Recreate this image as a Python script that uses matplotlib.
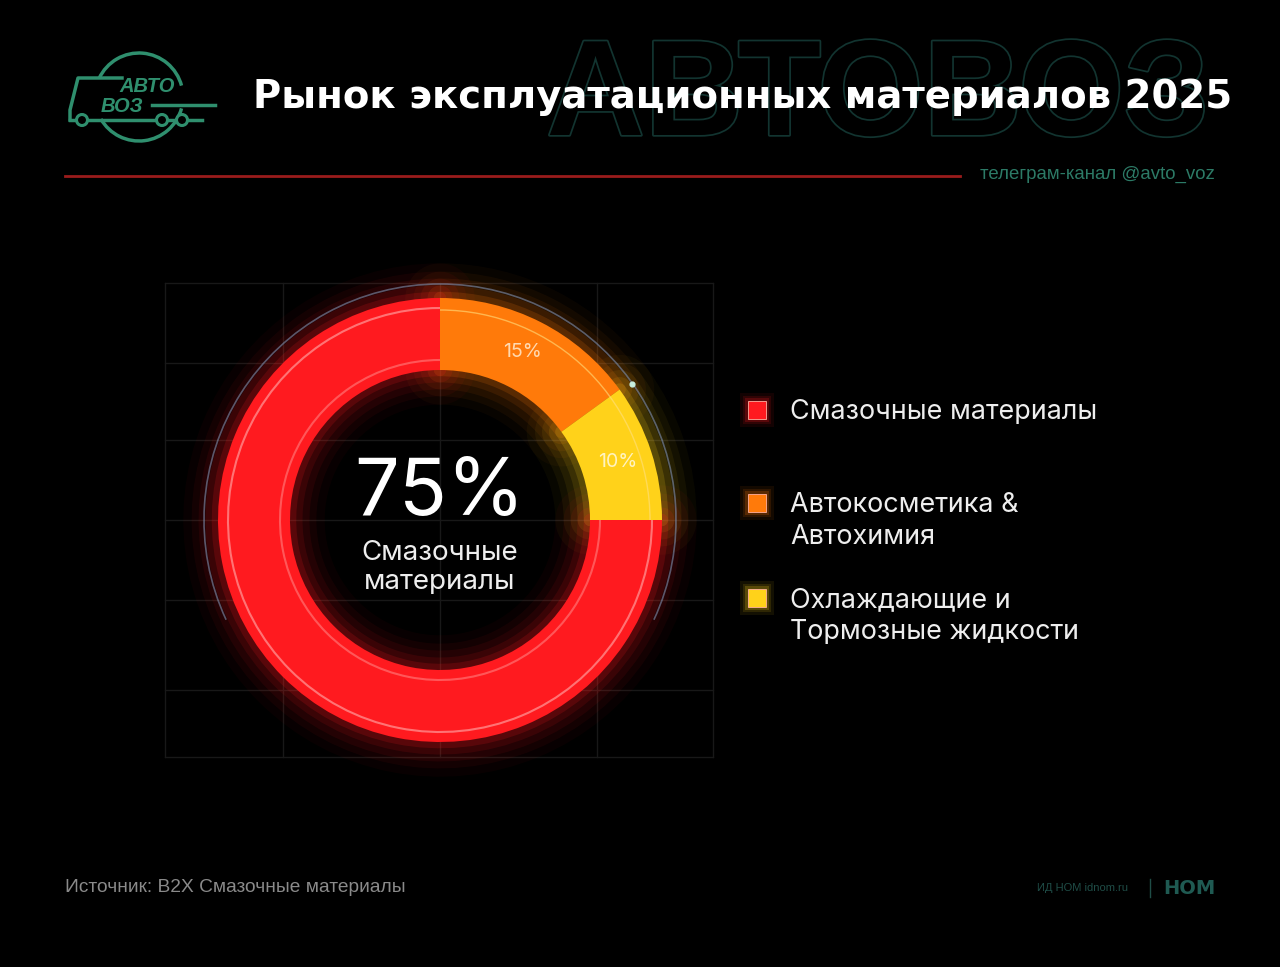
import matplotlib
matplotlib.use("Agg")
import matplotlib.pyplot as plt
import matplotlib.patheffects as pe
from matplotlib.patches import Arc, Circle, Rectangle
import numpy as np

# ---- data ----
categories = ["Смазочные материалы", "Автокосметика &\nАвтохимия", "Охлаждающие и\nТормозные жидкости"]
shares = [75, 15, 10]
colors = ["#ff1a1f", "#ff7a0a", "#ffd21a"]
title = "Рынок эксплуатационных материалов 2025"
center_value = "75%"
center_label = "Смазочные\nматериалы"
source = "Источник: B2X Смазочные материалы"
channel = "телеграм-канал @avto_voz"

W, H = 1280, 967
fig = plt.figure(figsize=(W / 100, H / 100), dpi=100, facecolor="black")

# background axes in pixel coordinates
bg = fig.add_axes([0, 0, 1, 1])
bg.set_xlim(0, W)
bg.set_ylim(H, 0)
bg.set_facecolor("black")
bg.axis("off")

# watermark
bg.text(878, 100, "АВТОВОЗ", fontsize=98, fontweight="bold", family="Liberation Sans",
        color="black", ha="center", va="center", zorder=1,
        path_effects=[pe.withStroke(linewidth=2.5, foreground="#123430")])

# logo
teal = "#2f8f6e"
bg.add_patch(Arc((139, 97), 88, 88, theta1=15, theta2=150, color=teal, lw=2.5))
bg.add_patch(Arc((139, 97), 88, 88, theta1=205, theta2=345, color=teal, lw=2.5))
bg.text(147, 87, "АВТО", fontsize=14.5, style="italic", fontweight="bold", color=teal,
        ha="center", va="center", family="Liberation Sans")
bg.text(122, 107, "ВОЗ", fontsize=14.5, style="italic", fontweight="bold", color=teal,
        ha="center", va="center", family="Liberation Sans")
bg.plot([152, 215], [105, 105], color=teal, lw=2.5)
bg.plot([122, 78, 70, 70], [78, 78, 110, 120], color=teal, lw=2.5)
bg.plot([70, 202], [120, 120], color=teal, lw=2.5)
for cx in [82, 162, 182]:
    bg.add_patch(Circle((cx, 120), 5.5, facecolor="black", edgecolor=teal, lw=2.2, zorder=3))

# title
bg.text(253, 97, title, fontsize=27.8, fontweight="bold", color="white",
        ha="left", va="center", zorder=5)

# red separator & channel
bg.plot([65, 960], [176, 176], color="#9a1c1c", lw=2)
bg.text(980, 174, channel, fontsize=13.4, color="#2c7a66", ha="left", va="center",
        family="Liberation Sans")

# faint grid box
for gx in [165, 283, 440, 597, 713]:
    bg.plot([gx, gx], [283, 757], color="#181818", lw=1, zorder=0)
for gy in [283, 363, 440, 520, 600, 690, 757]:
    bg.plot([165, 713], [gy, gy], color="#181818", lw=1, zorder=0)

# legend
leg_y = [410, 503, 598]
for yy, col, lab in zip(leg_y, colors, categories):
    for s, a in [(34, 0.08), (28, 0.12), (24, 0.2)]:
        bg.add_patch(Rectangle((757 - s / 2, yy - s / 2), s, s, facecolor=col, alpha=a, lw=0))
    bg.add_patch(Rectangle((757 - 9, yy - 9), 18, 18, facecolor=col, edgecolor="#ffb0a0", lw=0.6))
    bg.text(790, yy - 11, lab, fontsize=19.4, color="#eeeeee", ha="left", va="top",
            family="Inter", linespacing=1.32)

# footer
bg.text(65, 888, source, fontsize=13.8, color="#8a8a8a", ha="left", va="center",
        family="Liberation Sans")
bg.text(1037, 888, "ИД НОМ idnom.ru", fontsize=8, color="#1f4d47", ha="left", va="center",
        family="Liberation Sans")
bg.plot([1150, 1150], [879, 897], color="#1f4d47", lw=1)
bg.text(1163, 888, "НОМ", fontsize=14, fontweight="bold", color="#1f5a52", ha="left", va="center")

# ---- donut axes (units = pixels) ----
cx_px, cy_px, half = 440, 520, 300
ax = fig.add_axes([(cx_px - half) / W, (H - cy_px - half) / H, 2 * half / W, 2 * half / H])
ax.patch.set_alpha(0)

order = [1, 2, 0]  # orange, yellow, red clockwise from top
vals = [shares[i] for i in order]
cols = [colors[i] for i in order]
R, Wd = 222, 72

# glow
for lw, a in [(50, 0.035), (38, 0.05), (28, 0.07), (18, 0.1), (9, 0.16)]:
    wed, _ = ax.pie(vals, radius=R, startangle=90, counterclock=False,
                    wedgeprops=dict(width=Wd, facecolor="none", edgecolor="none"))
    for w, c in zip(wed, cols):
        w.set_edgecolor(c)
        w.set_linewidth(lw)
        w.set_alpha(a)
        w.set_joinstyle("round")
# faces
wed, _ = ax.pie(vals, radius=R, startangle=90, counterclock=False, colors=cols,
                wedgeprops=dict(width=Wd, linewidth=0))
for w in wed:
    w.set_zorder(3)
# highlights
ax.add_patch(Arc((0, 0), 2 * 212, 2 * 212, theta1=-270, theta2=0, color="#ff9a9a", lw=1.5, alpha=0.7, zorder=4))
ax.add_patch(Arc((0, 0), 2 * 160, 2 * 160, theta1=-270, theta2=0, color="#ff8080", lw=1.5, alpha=0.6, zorder=4))
ax.add_patch(Arc((0, 0), 2 * 210, 2 * 210, theta1=0, theta2=90, color="#ffe080", lw=1, alpha=0.6, zorder=4))
# outer thin ring
ax.add_patch(Arc((0, 0), 2 * 236, 2 * 236, theta1=-25, theta2=205, color="#8090b0", lw=1.2, alpha=0.6, zorder=2))
ax.scatter([192], [136], s=12, color="#c8f0e0", zorder=5)

# segment labels
ax.text(82, 168, "15%", fontsize=14, color="#ffd9b0", ha="center", va="center", family="Inter", zorder=5)
ax.text(178, 58, "10%", fontsize=14, color="#fff3c0", ha="center", va="center", family="Inter", zorder=5)

# center texts
ax.text(0, 26, center_value, fontsize=57, color="white", ha="center", va="center", family="Inter", zorder=5)
ax.text(0, -48, center_label, fontsize=20, color="#eeeeee", ha="center", va="center",
        family="Inter", linespacing=1.15, zorder=5)

ax.set_xlim(-half, half)
ax.set_ylim(-half, half)
ax.set_aspect("equal")
ax.axis("off")

fig.savefig("out.png", dpi=100, facecolor="black")
